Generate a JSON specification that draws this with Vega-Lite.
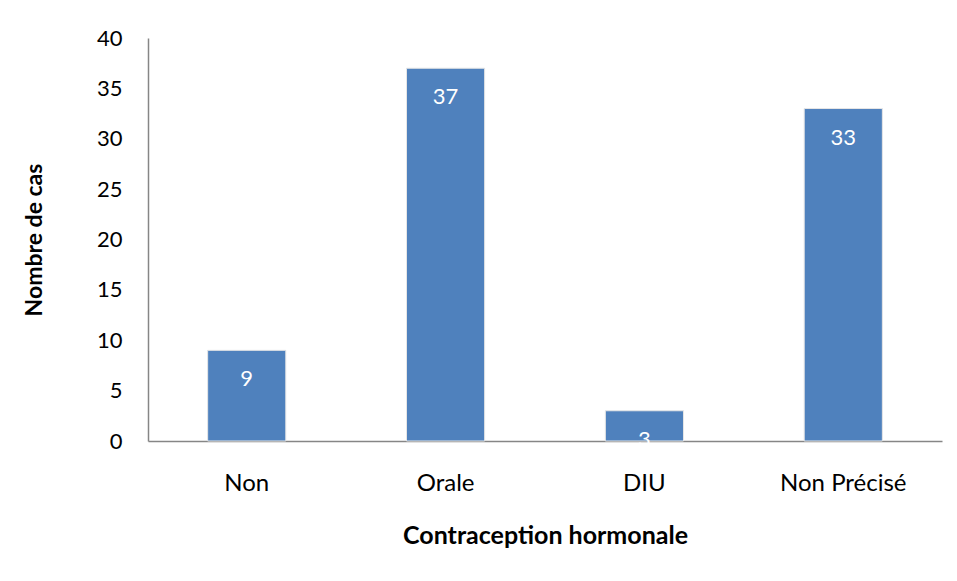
{
  "$schema": "https://vega.github.io/schema/vega-lite/v6.json",
  "width": 794,
  "height": 403,
  "autosize": {"type": "none"},
  "padding": {"left": 148, "top": 38, "right": 15, "bottom": 140},
  "background": "white",
  "config": {
    "view": {"stroke": null},
    "font": "Lato"
  },
  "data": {
    "values": [
      {"categorie": "Non", "cas": 9},
      {"categorie": "Orale", "cas": 37},
      {"categorie": "DIU", "cas": 3},
      {"categorie": "Non Précisé", "cas": 33}
    ]
  },
  "encoding": {
    "x": {
      "field": "categorie",
      "type": "nominal",
      "sort": null,
      "scale": {"paddingInner": 0.607, "paddingOuter": 0.3},
      "axis": {
        "title": "Contraception hormonale",
        "titleFont": "Lato",
        "titleFontSize": 25,
        "titleFontWeight": "bold",
        "titleColor": "#000000",
        "titlePadding": 28,
        "labelAngle": 0,
        "labelFont": "Lato",
        "labelFontSize": 24,
        "labelColor": "#000000",
        "labelPadding": 30,
        "ticks": false,
        "domainColor": "#868686",
        "domainWidth": 1.5,
        "grid": false
      }
    },
    "y": {
      "field": "cas",
      "type": "quantitative",
      "scale": {"domain": [0, 40]},
      "axis": {
        "title": "Nombre de cas",
        "titleFont": "Lato",
        "titleFontSize": 23,
        "titleFontWeight": "bold",
        "titleColor": "#000000",
        "titlePadding": 50,
        "values": [0, 5, 10, 15, 20, 25, 30, 35, 40],
        "labelFont": "Lato",
        "labelFontSize": 22,
        "labelColor": "#000000",
        "labelPadding": 26,
        "ticks": false,
        "domainColor": "#868686",
        "domainWidth": 1.5,
        "grid": false
      }
    }
  },
  "layer": [
    {
      "mark": {"type": "bar", "color": "#4F81BD", "stroke": "#E6E6E6", "strokeWidth": 1}
    },
    {
      "mark": {"type": "text", "color": "white", "fontSize": 22, "font": "Lato", "baseline": "middle", "dy": 29},
      "encoding": {"text": {"field": "cas", "type": "quantitative"}}
    }
  ]
}
